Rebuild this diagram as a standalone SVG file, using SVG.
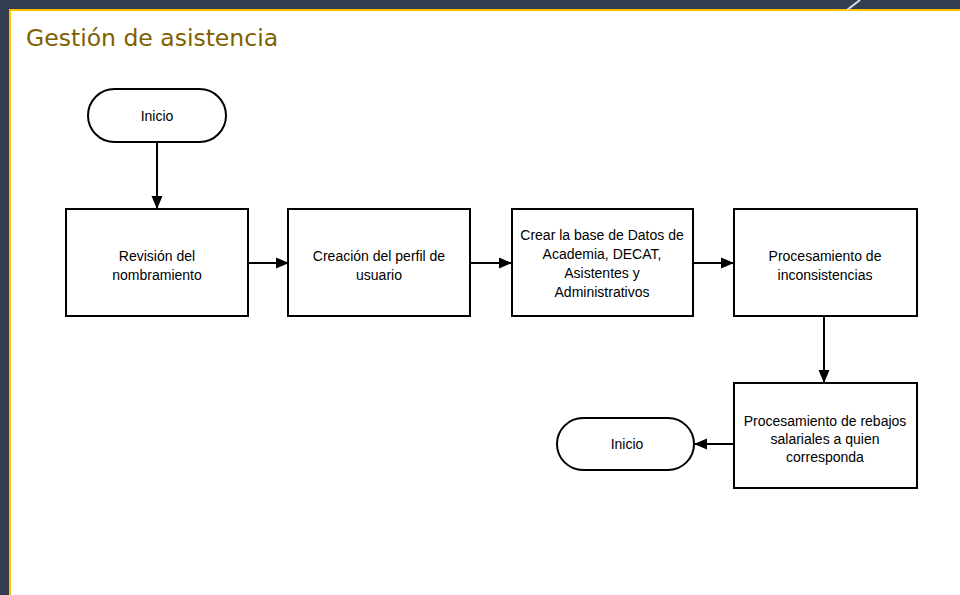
<svg xmlns="http://www.w3.org/2000/svg" width="960" height="595" viewBox="0 0 960 595">
<style>
.shape{fill:#ffffff;stroke:#000000;stroke-width:2}
.lbl{font-family:"Liberation Sans",Arial,sans-serif;font-size:14px;fill:#000000;text-anchor:middle}
.conn{stroke:#000000;stroke-width:2;fill:none}
</style>
<defs>
<marker id="arr" markerWidth="13" markerHeight="12" refX="12" refY="6" orient="auto" markerUnits="userSpaceOnUse">
<path d="M0,0.5 L13,6 L0,11.5 Z" fill="#000000"/>
</marker>
</defs>
<rect x="0" y="0" width="960" height="595" fill="#333F50"/>
<rect x="10" y="10" width="970" height="600" fill="#ffffff" stroke="#FFC000" stroke-width="2"/>
<line x1="847" y1="10" x2="860" y2="0" stroke="#D6DCE4" stroke-width="2"/>
<text x="26" y="46" font-family="'DejaVu Sans',Verdana,sans-serif" font-size="23.5" fill="#7F6000">Gestión de asistencia</text>

<g id="connectors">
<line class="conn" x1="157" y1="142" x2="157" y2="208" marker-end="url(#arr)"/>
<line class="conn" x1="248" y1="263" x2="288" y2="263" marker-end="url(#arr)"/>
<line class="conn" x1="470" y1="263" x2="511" y2="263" marker-end="url(#arr)"/>
<line class="conn" x1="693" y1="263" x2="733" y2="263" marker-end="url(#arr)"/>
<line class="conn" x1="824" y1="316" x2="824" y2="382" marker-end="url(#arr)"/>
<line class="conn" x1="734" y1="444" x2="695" y2="444" marker-end="url(#arr)"/>
</g>

<g id="inicio1">
<rect class="shape" x="88" y="89" width="138" height="53" rx="26.5" ry="26.5"/>
<text class="lbl" x="157" y="121">Inicio</text>
</g>
<g id="revision">
<rect class="shape" x="66" y="209" width="182" height="107"/>
<text class="lbl" x="157" y="261">Revisión del</text>
<text class="lbl" x="157" y="280">nombramiento</text>
</g>
<g id="creacion">
<rect class="shape" x="288" y="209" width="182" height="107"/>
<text class="lbl" x="379" y="261">Creación del perfil de</text>
<text class="lbl" x="379" y="280">usuario</text>
</g>
<g id="crear">
<rect class="shape" x="512" y="209" width="181" height="107"/>
<text class="lbl" x="602" y="240">Crear la base de Datos de</text>
<text class="lbl" x="602" y="259">Academia, DECAT,</text>
<text class="lbl" x="602" y="278">Asistentes y</text>
<text class="lbl" x="602" y="297">Administrativos</text>
</g>
<g id="procesamiento">
<rect class="shape" x="734" y="209" width="183" height="107"/>
<text class="lbl" x="825" y="261">Procesamiento de</text>
<text class="lbl" x="825" y="280">inconsistencias</text>
</g>
<g id="rebajos">
<rect class="shape" x="734" y="383" width="183" height="105"/>
<text class="lbl" x="825" y="426">Procesamiento de rebajos</text>
<text class="lbl" x="825" y="444">salariales a quien</text>
<text class="lbl" x="825" y="462">corresponda</text>
</g>
<g id="inicio2">
<rect class="shape" x="557" y="418" width="137" height="52" rx="26" ry="26"/>
<text class="lbl" x="627" y="449">Inicio</text>
</g>
</svg>
